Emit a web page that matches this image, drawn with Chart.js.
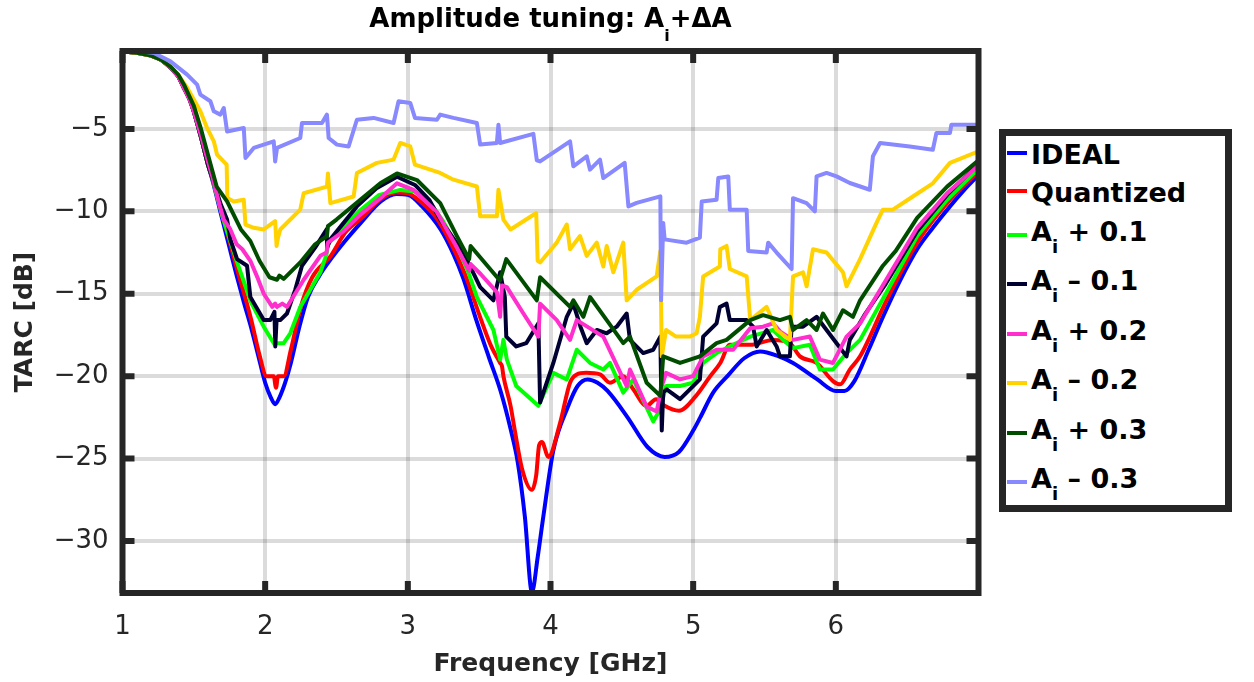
<!DOCTYPE html>
<html>
<head>
<meta charset="utf-8">
<script src="https://cdn.jsdelivr.net/npm/chart.js@4.4.1/dist/chart.umd.min.js"></script>
<style>
  html, body { margin: 0; padding: 0; background: #fff; }
  #wrap { position: relative; width: 1254px; height: 682px; }
  #title { position: absolute; left: 0; top: 3px; width: 1101px; text-align: center;
           font: bold 26px "DejaVu Sans"; color: #000; white-space: nowrap; line-height: 30px; }
  #title sub { font-size: 16px; vertical-align: -14px; line-height: 0; }
  #legend { position: absolute; left: 999px; top: 129px; width: 233px; height: 383px;
            box-sizing: border-box; border: 7px solid #262626; background: #fff; }
  .swatch { position: absolute; left: 1px; width: 20px; height: 4px; }
  .lbl { position: absolute; left: 25px; font: bold 27px "DejaVu Sans"; line-height: 27px;
         color: #000; white-space: nowrap; }
  .lbl sub { font-size: 18px; vertical-align: -12px; line-height: 0; }
</style>
</head>
<body>
<div id="wrap">
  <canvas id="chart" width="1254" height="682"></canvas>
  <div id="title">Amplitude tuning: A<sub>i</sub>+&Delta;A</div>
  <div id="legend"></div>
</div>
<script>
// tick labels
const xTicks = [1, 2, 3, 4, 5, 6];
const yTicks = [-30, -25, -20, -15, -10, -5];

const seriesNames = ['IDEAL', 'Quantized', 'A_i + 0.1', 'A_i \u2013 0.1', 'A_i + 0.2', 'A_i \u2013 0.2', 'A_i + 0.3', 'A_i \u2013 0.3'];
const seriesColors = ['#0000ff', '#ff0000', '#00ff00', '#000033', '#ff2ecc', '#ffd200', '#004d00', '#8888ff'];

// [frequency GHz, TARC dB]
const ideal = [[1.0,-0.3],[1.1,-0.38],[1.2,-0.55],[1.27,-0.8],[1.34,-1.3],[1.39,-1.8],[1.43,-2.5],[1.47,-3.2],[1.5,-3.95],[1.55,-5.5],[1.6,-7.2],[1.63,-8.1],[1.7,-10.5],[1.75,-12.2],[1.8,-13.9],[1.85,-15.5],[1.9,-17.0],[1.95,-18.7],[2.0,-20.4],[2.04,-21.3],[2.07,-21.7],[2.1,-21.3],[2.14,-20.4],[2.18,-19.2],[2.24,-17.0],[2.3,-15.2],[2.38,-13.9],[2.46,-12.9],[2.56,-11.8],[2.67,-10.7],[2.81,-9.4],[2.92,-8.95],[3.0,-9.0],[3.1,-9.7],[3.23,-11.1],[3.32,-12.6],[3.39,-14.1],[3.48,-16.6],[3.57,-18.9],[3.65,-20.9],[3.72,-23.2],[3.77,-25.2],[3.82,-28.5],[3.87,-33.1],[3.91,-31.0],[3.95,-28.5],[4.02,-24.5],[4.12,-21.9],[4.19,-20.6],[4.26,-20.2],[4.33,-20.4],[4.4,-20.9],[4.54,-22.5],[4.68,-24.3],[4.8,-24.9],[4.9,-24.6],[5.0,-23.3],[5.05,-22.5],[5.14,-21.0],[5.24,-20.0],[5.36,-18.9],[5.47,-18.5],[5.6,-18.8],[5.7,-19.2],[5.87,-20.2],[6.0,-20.9],[6.06,-20.9],[6.13,-20.3],[6.23,-18.4],[6.33,-16.4],[6.45,-14.2],[6.57,-12.3],[6.68,-11.0],[6.8,-9.7],[6.9,-8.7],[7.0,-7.8]];

const quantized = [[1.0,-0.3],[1.1,-0.38],[1.2,-0.55],[1.27,-0.8],[1.34,-1.3],[1.39,-1.8],[1.43,-2.5],[1.47,-3.2],[1.5,-3.95],[1.55,-5.5],[1.6,-7.2],[1.63,-8.0],[1.7,-10.2],[1.8,-13.4],[1.9,-16.5],[1.96,-18.7],[2.01,-20.0],[2.06,-20.0],[2.076,-20.7],[2.09,-20.0],[2.13,-20.0],[2.18,-18.4],[2.25,-15.8],[2.33,-14.0],[2.46,-12.7],[2.56,-11.3],[2.69,-10.3],[2.8,-9.3],[2.92,-8.85],[3.0,-8.9],[3.1,-9.5],[3.2,-10.4],[3.3,-11.9],[3.4,-13.8],[3.51,-16.5],[3.58,-18.1],[3.647,-19.2],[3.66,-19.4],[3.67,-20.0],[3.72,-21.8],[3.75,-23.3],[3.8,-25.6],[3.87,-26.9],[3.9,-26.0],[3.92,-24.2],[3.94,-24.0],[3.985,-24.9],[4.067,-22.85],[4.137,-20.4],[4.184,-19.9],[4.25,-19.8],[4.347,-19.9],[4.417,-20.4],[4.51,-20.0],[4.58,-20.8],[4.674,-21.8],[4.74,-21.4],[4.8,-21.8],[4.9,-22.1],[5.02,-21.2],[5.12,-20.0],[5.19,-19.2],[5.257,-18.1],[5.4,-18.1],[5.56,-17.8],[5.678,-18.0],[5.748,-18.8],[5.865,-19.2],[5.98,-20.3],[6.03,-20.5],[6.098,-19.6],[6.17,-18.8],[6.35,-15.5],[6.57,-11.9],[6.78,-9.5],[7.0,-7.6]];

const plus01 = [[1.0,-0.3],[1.1,-0.38],[1.2,-0.55],[1.27,-0.8],[1.34,-1.3],[1.39,-1.8],[1.43,-2.5],[1.47,-3.2],[1.5,-3.95],[1.55,-5.5],[1.6,-7.2],[1.63,-8.0],[1.7,-10.3],[1.8,-13.0],[1.9,-15.5],[1.99,-17.0],[2.06,-18.0],[2.13,-18.0],[2.176,-17.4],[2.246,-15.8],[2.387,-13.7],[2.43,-12.6],[2.44,-12.0],[2.55,-10.9],[2.67,-9.9],[2.8,-9.0],[2.947,-8.7],[3.05,-8.8],[3.15,-9.4],[3.24,-10.5],[3.344,-12.1],[3.42,-13.6],[3.484,-15.2],[3.6,-17.2],[3.647,-19.0],[3.67,-17.8],[3.694,-19.0],[3.76,-20.6],[3.915,-21.8],[4.02,-19.8],[4.114,-20.2],[4.184,-18.4],[4.277,-19.2],[4.37,-19.6],[4.417,-19.2],[4.51,-21.0],[4.58,-20.2],[4.72,-22.75],[4.77,-22.0],[4.81,-20.6],[4.908,-20.6],[5.0,-20.4],[5.07,-19.2],[5.164,-18.6],[5.28,-18.1],[5.4,-17.6],[5.56,-17.2],[5.63,-17.8],[5.7,-18.3],[5.818,-18.1],[5.888,-19.6],[5.98,-19.6],[6.075,-18.6],[6.17,-17.8],[6.35,-15.0],[6.57,-11.5],[6.78,-9.3],[7.0,-7.4]];

const minus01 = [[1.0,-0.3],[1.1,-0.38],[1.2,-0.55],[1.27,-0.8],[1.34,-1.3],[1.39,-1.8],[1.43,-2.5],[1.47,-3.2],[1.5,-3.95],[1.55,-5.5],[1.6,-7.2],[1.63,-8.0],[1.69,-9.6],[1.733,-10.5],[1.756,-11.7],[1.803,-12.9],[1.873,-13.3],[1.896,-15.2],[1.99,-16.6],[2.036,-16.6],[2.065,-16.1],[2.071,-18.2],[2.08,-16.6],[2.106,-16.6],[2.153,-16.2],[2.211,-14.75],[2.258,-13.3],[2.35,-12.2],[2.43,-11.1],[2.435,-12.2],[2.457,-11.7],[2.55,-10.7],[2.643,-9.7],[2.78,-8.6],[2.924,-7.9],[3.05,-8.4],[3.15,-9.3],[3.227,-10.5],[3.39,-12.5],[3.507,-14.6],[3.6,-15.4],[3.647,-13.7],[3.68,-15.2],[3.69,-17.6],[3.76,-18.2],[3.83,-18.0],[3.915,-16.8],[3.927,-21.6],[3.95,-21.0],[4.02,-19.2],[4.114,-16.4],[4.16,-15.6],[4.21,-17.0],[4.254,-18.0],[4.325,-17.2],[4.394,-17.4],[4.464,-17.0],[4.534,-16.2],[4.557,-17.8],[4.65,-18.6],[4.72,-18.4],[4.77,-17.6],[4.78,-23.3],[4.79,-21.0],[4.814,-20.8],[4.908,-21.4],[4.977,-20.8],[5.047,-20.2],[5.07,-17.6],[5.164,-16.8],[5.187,-15.8],[5.234,-15.6],[5.257,-16.6],[5.375,-16.6],[5.42,-17.0],[5.445,-18.2],[5.515,-17.2],[5.585,-18.2],[5.608,-18.8],[5.678,-18.8],[5.69,-17.0],[5.77,-17.0],[5.865,-16.4],[5.935,-17.2],[6.005,-18.0],[6.075,-18.8],[6.098,-17.8],[6.2,-16.3],[6.35,-14.4],[6.57,-11.2],[6.78,-9.0],[7.0,-7.1]];

const plus02 = [[1.0,-0.3],[1.1,-0.38],[1.2,-0.55],[1.27,-0.8],[1.34,-1.3],[1.39,-1.8],[1.43,-2.5],[1.47,-3.2],[1.5,-3.95],[1.55,-5.4],[1.6,-7.0],[1.63,-7.9],[1.68,-9.6],[1.71,-10.5],[1.756,-11.1],[1.8,-12.0],[1.84,-12.3],[1.896,-13.0],[1.95,-14.1],[1.99,-15.0],[2.05,-15.8],[2.07,-15.6],[2.083,-15.8],[2.12,-15.6],[2.153,-15.8],[2.21,-15.0],[2.27,-14.15],[2.387,-12.7],[2.43,-12.5],[2.44,-11.9],[2.55,-11.2],[2.667,-10.2],[2.807,-9.2],[2.924,-8.3],[3.04,-8.7],[3.2,-10.0],[3.344,-12.2],[3.43,-13.6],[3.44,-13.2],[3.51,-13.8],[3.624,-14.9],[3.647,-16.4],[3.66,-14.5],[3.694,-14.6],[3.81,-16.2],[3.915,-17.6],[3.927,-15.6],[4.044,-16.6],[4.137,-17.8],[4.184,-16.6],[4.277,-17.1],[4.37,-17.6],[4.534,-20.6],[4.557,-19.6],[4.674,-21.85],[4.744,-22.15],[4.78,-20.6],[4.81,-19.8],[4.908,-20.2],[5.0,-20.0],[5.07,-18.8],[5.164,-18.4],[5.28,-18.4],[5.4,-17.1],[5.49,-17.0],[5.56,-16.8],[5.61,-17.3],[5.7,-17.8],[5.818,-17.6],[5.888,-19.0],[5.98,-19.2],[6.075,-17.6],[6.17,-16.8],[6.35,-14.2],[6.57,-11.0],[6.78,-8.9],[7.0,-7.2]];

const minus02 = [[1.0,-0.3],[1.1,-0.38],[1.2,-0.55],[1.27,-0.8],[1.34,-1.25],[1.39,-1.7],[1.453,-2.5],[1.546,-3.93],[1.593,-4.94],[1.64,-5.75],[1.663,-6.56],[1.73,-7.17],[1.735,-9.19],[1.78,-9.4],[1.85,-9.3],[1.862,-10.8],[1.92,-11.0],[1.99,-11.1],[2.07,-10.6],[2.08,-12.1],[2.09,-11.6],[2.106,-11.1],[2.246,-9.9],[2.27,-8.9],[2.433,-8.5],[2.44,-7.7],[2.457,-9.5],[2.62,-9.1],[2.643,-7.67],[2.783,-7.06],[2.9,-6.86],[2.947,-5.85],[3.017,-6.06],[3.05,-7.17],[3.227,-7.67],[3.32,-8.08],[3.484,-8.49],[3.507,-10.3],[3.624,-10.3],[3.635,-8.69],[3.67,-10.5],[3.72,-11.1],[3.9,-10.1],[3.91,-13.0],[3.927,-13.1],[4.044,-11.9],[4.114,-10.8],[4.137,-12.3],[4.207,-11.5],[4.254,-12.7],[4.324,-11.9],[4.37,-13.35],[4.394,-12.1],[4.44,-13.7],[4.51,-11.9],[4.534,-15.4],[4.604,-14.76],[4.744,-13.95],[4.77,-12.4],[4.78,-18.8],[4.81,-17.2],[4.88,-17.6],[4.977,-17.6],[5.024,-17.4],[5.047,-16.4],[5.07,-13.95],[5.187,-13.35],[5.19,-12.3],[5.234,-12.1],[5.257,-13.5],[5.375,-13.95],[5.4,-16.6],[5.515,-15.8],[5.585,-17.2],[5.678,-17.8],[5.7,-13.95],[5.77,-13.7],[5.795,-14.55],[5.84,-12.3],[5.935,-12.5],[6.05,-13.7],[6.075,-14.55],[6.17,-12.9],[6.285,-10.7],[6.33,-9.9],[6.4,-9.9],[6.54,-9.1],[6.68,-8.3],[6.8,-7.06],[7.0,-6.36]];

const plus03 = [[1.0,-0.3],[1.1,-0.38],[1.2,-0.55],[1.27,-0.8],[1.34,-1.25],[1.39,-1.7],[1.43,-2.3],[1.5,-3.6],[1.55,-5.0],[1.6,-6.6],[1.66,-8.5],[1.733,-9.4],[1.83,-11.1],[1.896,-11.8],[1.96,-13.0],[2.03,-14.0],[2.083,-14.15],[2.1,-13.9],[2.13,-14.1],[2.246,-13.1],[2.35,-12.0],[2.433,-11.5],[2.44,-10.9],[2.5,-10.5],[2.667,-9.3],[2.807,-8.3],[2.924,-7.7],[3.064,-8.1],[3.227,-9.5],[3.344,-11.5],[3.43,-12.9],[3.44,-12.1],[3.645,-14.2],[3.69,-12.9],[3.904,-15.4],[3.927,-14.0],[4.137,-15.8],[4.16,-15.4],[4.23,-16.4],[4.277,-15.2],[4.394,-16.6],[4.51,-18.0],[4.557,-17.6],[4.674,-20.4],[4.77,-21.2],[4.79,-18.8],[4.908,-19.2],[5.047,-18.8],[5.164,-18.0],[5.234,-17.8],[5.4,-16.6],[5.49,-16.3],[5.608,-16.6],[5.678,-16.4],[5.7,-17.2],[5.795,-16.6],[5.865,-17.2],[5.91,-16.2],[5.98,-17.2],[6.05,-16.0],[6.12,-16.4],[6.17,-15.4],[6.33,-13.3],[6.42,-12.4],[6.57,-10.4],[6.78,-8.5],[7.0,-6.9]];

const minus03 = [[1.0,-0.2],[1.1,-0.25],[1.22,-0.39],[1.336,-0.9],[1.453,-1.7],[1.523,-2.31],[1.546,-2.92],[1.616,-3.32],[1.64,-3.93],[1.686,-4.13],[1.71,-3.73],[1.733,-5.15],[1.85,-4.94],[1.862,-6.76],[1.92,-6.15],[2.06,-5.75],[2.07,-6.97],[2.083,-6.15],[2.246,-5.55],[2.258,-4.64],[2.398,-4.64],[2.433,-4.13],[2.445,-5.55],[2.503,-5.95],[2.585,-6.06],[2.643,-4.44],[2.76,-4.33],[2.9,-4.64],[2.935,-3.32],[3.017,-3.42],[3.05,-4.33],[3.204,-4.44],[3.227,-4.13],[3.32,-4.33],[3.484,-4.64],[3.507,-5.95],[3.624,-5.85],[3.635,-4.74],[3.647,-5.85],[3.88,-5.3],[3.904,-6.9],[3.927,-6.97],[4.137,-5.75],[4.16,-7.27],[4.254,-6.66],[4.277,-7.47],[4.347,-6.86],[4.37,-7.98],[4.52,-7.06],[4.546,-9.7],[4.604,-9.49],[4.77,-9.09],[4.775,-15.4],[4.79,-10.7],[4.8,-11.7],[4.954,-11.9],[5.047,-11.6],[5.06,-9.4],[5.164,-9.3],[5.176,-7.98],[5.246,-7.88],[5.257,-9.9],[5.375,-9.9],[5.386,-12.4],[5.515,-12.5],[5.526,-11.9],[5.585,-12.5],[5.69,-13.5],[5.7,-9.2],[5.795,-9.5],[5.853,-10.0],[5.865,-7.88],[5.935,-7.67],[6.005,-7.88],[6.098,-8.28],[6.238,-8.69],[6.26,-6.66],[6.31,-5.85],[6.518,-6.06],[6.68,-6.26],[6.705,-5.24],[6.8,-5.24],[6.81,-4.74],[7.0,-4.74]];

const seriesData = [ideal, quantized, plus01, minus01, plus02, minus02, plus03, minus03];

const AXIS_COL = '#262626';
const FONT = 'DejaVu Sans';

// box + inward ticks on all four sides, drawn over the lines like MATLAB
const boxPlugin = {
  id: 'box',
  afterDatasetsDraw(chart) {
    const { ctx, chartArea: a, scales: { x, y } } = chart;
    ctx.save();
    ctx.strokeStyle = AXIS_COL;
    ctx.lineWidth = 6;
    ctx.strokeRect(a.left, a.top, a.right - a.left, a.bottom - a.top);
    const len = 12;
    ctx.beginPath();
    x.ticks.forEach(t => {
      const px = x.getPixelForValue(t.value);
      ctx.moveTo(px, a.bottom); ctx.lineTo(px, a.bottom - len);
      ctx.moveTo(px, a.top); ctx.lineTo(px, a.top + len);
    });
    y.ticks.forEach(t => {
      const py = y.getPixelForValue(t.value);
      ctx.moveTo(a.left, py); ctx.lineTo(a.left + len, py);
      ctx.moveTo(a.right, py); ctx.lineTo(a.right - len, py);
    });
    ctx.stroke();
    ctx.restore();
  }
};

const datasets = seriesData.map((pts, i) => ({
  label: seriesNames[i],
  data: pts.map(([f, v]) => ({ x: f, y: v })),
  borderColor: seriesColors[i],
  backgroundColor: seriesColors[i],
  borderWidth: 4,
  pointRadius: 0,
  borderJoinStyle: 'round',
  cubicInterpolationMode: i < 2 ? 'monotone' : 'default',
  tension: 0,
  order: seriesData.length - i   // later series on top
}));

new Chart(document.getElementById('chart'), {
  type: 'line',
  data: { datasets },
  options: {
    responsive: false,
    devicePixelRatio: 1,
    animation: false,
    events: [],
    layout: { padding: { left: 0, top: 51, right: 275.5, bottom: 0 } },
    plugins: { legend: { display: false }, title: { display: false }, tooltip: { enabled: false } },
    scales: {
      x: {
        type: 'linear', min: 1, max: 7,
        afterFit: s => { s.height = 89; },
        afterBuildTicks: s => { s.ticks = xTicks.map(v => ({ value: v })); },
        grid: { color: 'rgba(0,0,0,0.14)', lineWidth: 4, drawTicks: false },
        border: { display: false },
        ticks: { color: AXIS_COL, font: { family: FONT, size: 26 }, padding: 19, maxRotation: 0 },
        title: { display: true, text: 'Frequency [GHz]', color: AXIS_COL,
                 font: { family: FONT, size: 25, weight: 'bold' }, padding: { top: 0, bottom: 3 } }
      },
      y: {
        type: 'linear', min: -33.16, max: -0.27,
        afterFit: s => { s.width = 122.5; },
        afterBuildTicks: s => { s.ticks = yTicks.map(v => ({ value: v })); },
        grid: { color: 'rgba(0,0,0,0.14)', lineWidth: 4, drawTicks: false },
        border: { display: false },
        ticks: { color: AXIS_COL, font: { family: FONT, size: 26 }, padding: 14,
                 callback: v => (v < 0 ? '\u2212' + Math.abs(v) : String(v)) },
        title: { display: true, text: 'TARC [dB]', color: AXIS_COL,
                 font: { family: FONT, size: 25, weight: 'bold' }, padding: { top: 10, bottom: 0 } }
      }
    }
  },
  plugins: [boxPlugin]
});

// legend, laid out like the MATLAB box
const rowLineY = [17, 55, 99, 148, 198, 247, 297, 346];
const legend = document.getElementById('legend');
seriesNames.forEach((name, i) => {
  const sw = document.createElement('div');
  sw.className = 'swatch';
  sw.style.top = (rowLineY[i] - 2) + 'px';
  sw.style.background = seriesColors[i];
  legend.appendChild(sw);
  const lb = document.createElement('div');
  lb.className = 'lbl';
  const hasSub = name.indexOf('A_i') === 0;
  const capCenter = rowLineY[i] + (hasSub ? -4 : 1);
  lb.style.top = (capCenter - 13) + 'px';
  lb.innerHTML = hasSub ? 'A<sub>i</sub>' + name.slice(3) : name;
  legend.appendChild(lb);
});
</script>
</body>
</html>
